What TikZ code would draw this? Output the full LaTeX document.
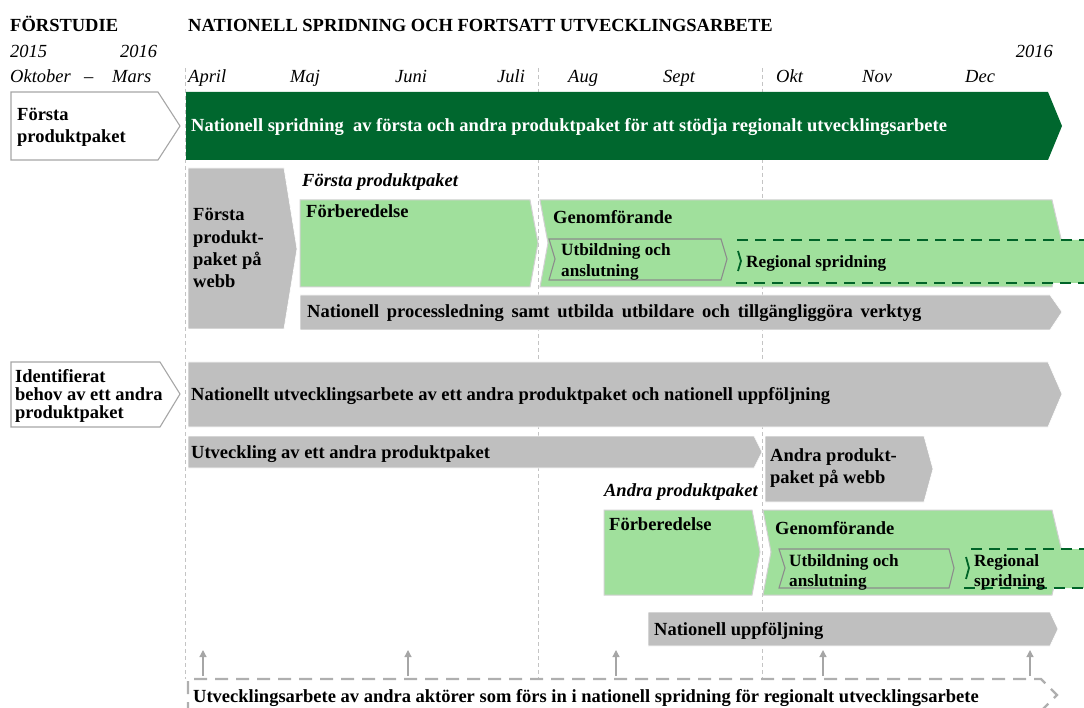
\documentclass[tikz,border=0pt]{standalone}
\usepackage{fontspec}
\setmainfont{Liberation Serif}
\usetikzlibrary{arrows.meta}
\definecolor{darkgreen}{RGB}{0,103,46}
\definecolor{lightgreen}{RGB}{160,224,156}
\definecolor{boxgray}{RGB}{191,191,191}
\definecolor{edgegray}{RGB}{166,166,166}
\definecolor{guidegray}{RGB}{196,196,196}
\definecolor{dashgreen}{RGB}{0,100,40}
\definecolor{dashgray}{RGB}{175,175,175}

\begin{document}
\begin{tikzpicture}[x=1pt,y=-1pt,
  lbl/.style={inner sep=0pt, anchor=base west, font=\fontsize{18.5}{20}\selectfont\bfseries},
  small/.style={lbl, font=\fontsize{17.2}{18}\selectfont\bfseries},
  ital/.style={inner sep=0pt, anchor=base west, font=\fontsize{18.5}{20}\selectfont\itshape},
  italbold/.style={inner sep=0pt, anchor=base west, font=\fontsize{18.5}{20}\selectfont\bfseries\itshape},
  whitebox/.style={fill=white, draw=edgegray, line width=1.1pt},
  graybox/.style={fill=boxgray, draw=white, line width=0.6pt},
  greenbox/.style={fill=lightgreen, draw=black!18, line width=1pt},
  subbox/.style={fill=lightgreen, draw=black!45, line width=1.1pt},
  regbox/.style={draw=dashgreen, line width=2pt, dash pattern=on 11pt off 7pt},
  guide/.style={draw=guidegray, line width=0.7pt, dash pattern=on 4pt off 3pt},
  uparrow/.style={draw=edgegray, line width=1.2pt, -{Triangle[length=7pt,width=7pt]}},
]
\useasboundingbox (0,0) rectangle (1084,708);
\clip (0,0) rectangle (1084,708);

% month guide lines
\draw[guide] (185,68) -- (185,679);
\draw[guide] (538,68) -- (538,679);
\draw[guide] (762,68) -- (762,679);

% headings and time axis
\node[lbl] (hPre) at (10,32) {FÖRSTUDIE};
\node[lbl] (hNat) at (188,32) {NATIONELL SPRIDNING OCH FORTSATT UTVECKLINGSARBETE};
\node[ital] (y2015) at (10,58) {2015};
\node[ital] (y2016a) at (120,58) {2016};
\node[ital, anchor=base east] (y2016b) at (1053,58) {2016};
\node[ital] (mOkt0) at (10,83) {Oktober};
\node[ital] (mDash) at (84,83) {–};
\node[ital] (mMar) at (112,83) {Mars};
\node[ital] (mApr) at (188,83) {April};
\node[ital] (mMaj) at (290,83) {Maj};
\node[ital] (mJun) at (395,83) {Juni};
\node[ital] (mJul) at (497,83) {Juli};
\node[ital] (mAug) at (568,83) {Aug};
\node[ital] (mSep) at (663,83) {Sept};
\node[ital] (mOkt) at (776,83) {Okt};
\node[ital] (mNov) at (862,83) {Nov};
\node[ital] (mDec) at (965,83) {Dec};

% first product package: start
\draw[whitebox] (11,92) -- (158,92) -- (180,126) -- (158,160) -- (11,160) -- cycle;
\node[lbl] (fp1) at (17,121) {Första};
\node[lbl] (fp2) at (17,143) {produktpaket};

% national spread (dark green)
\fill[darkgreen] (186,92) -- (1048,92) -- (1062,126) -- (1048,160) -- (186,160) -- cycle;
\node[lbl, text=white] (natSpread) at (191,132) {Nationell spridning\ \ av första och andra produktpaket för att stödja regionalt utvecklingsarbete};

% first package on web
\draw[graybox] (188,168) -- (284,168) -- (297,249) -- (284,329) -- (188,329) -- cycle;
\node[lbl] (w1a) at (193,221) {Första};
\node[lbl] (w1b) at (193,244) {produkt-};
\node[lbl] (w1c) at (193,266) {paket på};
\node[lbl] (w1d) at (193,288) {webb};

\node[italbold] (fpTitle) at (302,187) {Första produktpaket};

% preparation / implementation, first package
\draw[greenbox] (300,200) -- (530,200) -- (538,243) -- (530,287) -- (300,287) -- cycle;
\node[lbl] (prep1) at (306,218) {Förberedelse};
\draw[greenbox] (540,200) -- (1052,200) -- (1062,243) -- (1052,287) -- (540,287) -- (548,243) -- cycle;
\node[lbl] (impl1) at (553,224) {Genomförande};
\draw[subbox] (549,239) -- (721,239) -- (727,259) -- (721,280) -- (549,280) -- (555,259) -- cycle;
\node[small] (edu1a) at (561,256) {Utbildning och};
\node[small] (edu1b) at (561,277) {anslutning};
\fill[lightgreen] (736,240) -- (1090,240) -- (1090,283) -- (736,283) -- (742,261) -- cycle;
\draw[regbox] (1090,240) -- (736,240);
\draw[regbox] (736,283) -- (1090,283);
\draw[dashgreen, line width=1.8pt] (738,251) -- (741,261) -- (738,271);
\node[small] (reg1) at (746,268) {Regional spridning};

% process leadership
\draw[graybox] (300,295) -- (1050,295) -- (1062,312) -- (1050,330) -- (300,330) -- cycle;
\node[lbl] (proc) at (307,318) {\spaceskip=7.8pt Nationell processledning samt utbilda utbildare och tillgängliggöra verktyg};

% identified need of a second package
\draw[whitebox] (11,362) -- (160,362) -- (180,394) -- (160,427) -- (11,427) -- cycle;
\node[lbl] (id1) at (15,382) {Identifierat};
\node[lbl] (id2) at (15,400) {behov av ett andra};
\node[lbl] (id3) at (15,418) {produktpaket};

% national development work
\draw[graybox] (188,362) -- (1048,362) -- (1062,394) -- (1048,427) -- (188,427) -- cycle;
\node[lbl] (natDev) at (191,400) {Nationellt utvecklingsarbete av ett andra produktpaket och nationell uppföljning};

\draw[graybox] (188,436) -- (754,436) -- (762,452) -- (754,468) -- (188,468) -- cycle;
\node[lbl] (dev2) at (191,458) {Utveckling av ett andra produktpaket};

\draw[graybox] (765,436) -- (924,436) -- (933,469) -- (924,502) -- (765,502) -- cycle;
\node[lbl] (w2a) at (770,461) {Andra produkt-};
\node[lbl] (w2b) at (770,483) {paket på webb};

\node[italbold, anchor=base east] (apTitle) at (758,496) {Andra produktpaket};

% preparation / implementation, second package
\draw[greenbox] (604,510) -- (752,510) -- (760,552) -- (752,595) -- (604,595) -- cycle;
\node[lbl] (prep2) at (609,530) {Förberedelse};
\draw[greenbox] (763,510) -- (1052,510) -- (1062,552) -- (1052,595) -- (763,595) -- (771,552) -- cycle;
\node[lbl] (impl2) at (775,534) {Genomförande};
\draw[subbox] (779,549) -- (949,549) -- (954,568) -- (949,588) -- (779,588) -- (785,568) -- cycle;
\node[small] (edu2a) at (789,566) {Utbildning och};
\node[small] (edu2b) at (789,586) {anslutning};
\fill[lightgreen] (964,549) -- (1090,549) -- (1090,588) -- (964,588) -- (969,568) -- cycle;
\draw[regbox] (1090,549) -- (964,549);
\draw[regbox] (964,588) -- (1090,588);
\draw[dashgreen, line width=1.8pt] (966,557) -- (969,568) -- (966,579);
\node[small] (reg2a) at (974,566) {Regional};
\node[small] (reg2b) at (974,586) {spridning};

% national follow-up
\draw[graybox] (648,612) -- (1050,612) -- (1058,629) -- (1050,646) -- (648,646) -- cycle;
\node[lbl] (follow) at (654,635) {Nationell uppföljning};

% contributions from other actors
\draw[draw=dashgray, line width=2.2pt, dash pattern=on 13pt off 8pt]
  (188,715) -- (188,679) -- (1041,679) -- (1057,695) -- (1041,711);
\node[lbl] (others) at (193,702) {Utvecklingsarbete av andra aktörer som förs in i nationell spridning för regionalt utvecklingsarbete};
\foreach \ax/\nm in {203/a1,408/a2,616/a3,823/a4,1030/a5}{
  \coordinate (\nm s) at (\ax,676);
  \coordinate (\nm e) at (\ax,650);
  \draw[uparrow] (\nm s) -- (\nm e);
}
\end{tikzpicture}
\end{document}
